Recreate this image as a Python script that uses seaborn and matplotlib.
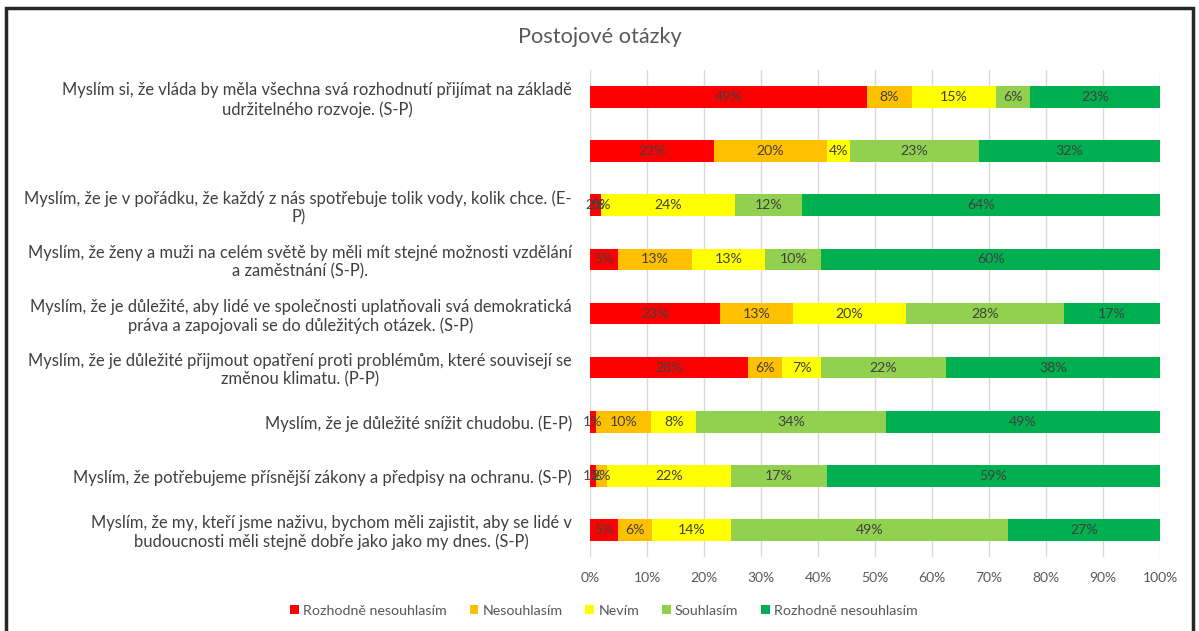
import pandas as pd
import numpy as np
import matplotlib
matplotlib.use('Agg')
import matplotlib.pyplot as plt
import seaborn as sns
from matplotlib.patches import Patch, Rectangle

# Questions (top to bottom)
questions = [
    "Myslím si, že vláda by měla všechna svá rozhodnutí přijímat na základě\nudržitelného rozvoje. (S-P)",
    "",
    "Myslím, že je v pořádku, že každý z nás spotřebuje tolik vody, kolik chce. (E-\nP)",
    "Myslím, že ženy a muži na celém světě by měli mít stejné možnosti vzdělání\na zaměstnání (S-P).",
    "Myslím, že je důležité, aby lidé ve společnosti uplatňovali svá demokratická\npráva a zapojovali se do důležitých otázek. (S-P)",
    "Myslím, že je důležité přijmout opatření proti problémům, které souvisejí se\nzměnou klimatu. (P-P)",
    "Myslím, že je důležité snížit chudobu. (E-P)",
    "Myslím, že potřebujeme přísnější zákony a předpisy na ochranu. (S-P)",
    "Myslím, že my, kteří jsme naživu, bychom měli zajistit, aby se lidé v\nbudoucnosti měli stejně dobře jako jako my dnes. (S-P)",
]

categories = ["Rozhodně nesouhlasím", "Nesouhlasím", "Nevím", "Souhlasím", "Rozhodně nesouhlasím "]
colors = ["#FF0000", "#FFC000", "#FFFF00", "#92D050", "#00B050"]

# percentages per answer, one list per category
rozhodne_ne = [49, 22, 2, 5, 23, 28, 1, 1, 5]
nesouhlasim = [8, 20, 0, 13, 13, 6, 10, 2, 6]
nevim = [15, 4, 24, 13, 20, 7, 8, 22, 14]
souhlasim = [6, 23, 12, 10, 28, 22, 34, 17, 49]
rozhodne_ano = [23, 32, 64, 60, 17, 38, 49, 59, 27]

x_ticks = [0, 10, 20, 30, 40, 50, 60, 70, 80, 90, 100]

df = pd.DataFrame({
    'question': questions,
    categories[0]: rozhodne_ne,
    categories[1]: nesouhlasim,
    categories[2]: nevim,
    categories[3]: souhlasim,
    categories[4]: rozhodne_ano,
})
vals = df[categories].astype(float)
share = vals.div(vals.sum(axis=1), axis=0) * 100  # 100% stacked
cum = share.cumsum(axis=1)

sns.set_style('white')
plt.rcParams['font.family'] = ['Lato', 'DejaVu Sans']

fig = plt.figure(figsize=(11.99, 6.31), dpi=100)
ax = fig.add_axes([590 / 1199, 1 - 557 / 631, 570 / 1199, 487 / 631])

# draw cumulative bars from the last category so the earlier ones sit on top
for i in range(len(categories) - 1, -1, -1):
    plot_df = pd.DataFrame({'question': df['question'], 'value': cum.iloc[:, i]})
    sns.barplot(data=plot_df, x='value', y='question', order=questions, orient='h',
                color=colors[i], width=0.4, linewidth=0, saturation=1, ax=ax, zorder=3)

# segment labels
for r in range(len(questions)):
    left = 0
    for i, c in enumerate(categories):
        w = share.iloc[r, i]
        ax.text(left + w / 2, r, f"{int(vals.iloc[r, i])}%", ha='center', va='center',
                fontsize=10.2, color='#404040', zorder=5)
        left += w

ax.set_xlim(0, 100)
ax.set_ylim(8.5, -0.5)
ax.set_xticks(x_ticks)
ax.set_xticklabels([f"{t}%" for t in x_ticks], fontsize=10, color='#595959')
ax.tick_params(axis='x', length=0, pad=11)
ax.tick_params(axis='y', length=0, pad=13)
ax.set_yticklabels(questions, fontsize=11.9, color='#404040', multialignment='center')
ax.xaxis.grid(True, color='#D9D9D9', linewidth=1, zorder=0)
ax.set_axisbelow(True)
ax.set_xlabel('')
ax.set_ylabel('')
for s in ax.spines.values():
    s.set_visible(False)

fig.text(0.5, 1 - 37 / 631, "Postojové otázky", ha='center', va='center', fontsize=15.7, color='#595959')

handles = [Patch(facecolor=c, edgecolor='none') for c in colors]
fig.legend(handles, [c.strip() for c in categories], loc='center', ncol=5,
           bbox_to_anchor=(604 / 1199, 1 - 611 / 631), frameon=False, fontsize=10.3,
           handlelength=0.6, handleheight=0.6, handletextpad=0.3, columnspacing=1.6,
           labelcolor='#595959')

# chart frame
fig.patches.append(Rectangle((6 / 1199, -0.05), 1187 / 1199, 1.05 - 8 / 631,
                             transform=fig.transFigure, fill=False, edgecolor='#262626',
                             linewidth=2.5))

fig.savefig('out.png', dpi=100)
